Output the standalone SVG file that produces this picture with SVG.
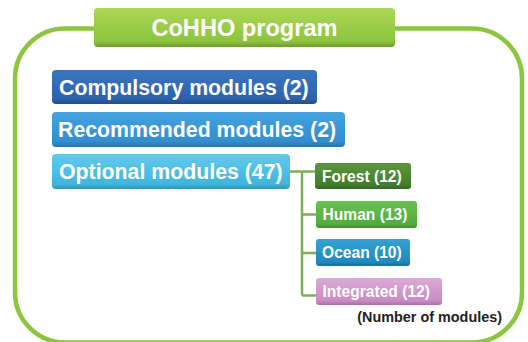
<svg xmlns="http://www.w3.org/2000/svg" width="528" height="342" viewBox="0 0 528 342">
<defs>
<linearGradient id="gTitle" x1="0" y1="0" x2="0" y2="1"><stop offset="0" stop-color="#acd656"/><stop offset="0.85" stop-color="#8dc53e"/><stop offset="1" stop-color="#6f9a30"/></linearGradient>
<linearGradient id="gComp" x1="0" y1="0" x2="0" y2="1"><stop offset="0" stop-color="#3a76bf"/><stop offset="0.85" stop-color="#2c62ab"/><stop offset="1" stop-color="#224f8c"/></linearGradient>
<linearGradient id="gRec" x1="0" y1="0" x2="0" y2="1"><stop offset="0" stop-color="#44a3e0"/><stop offset="0.85" stop-color="#318dcf"/><stop offset="1" stop-color="#2673ab"/></linearGradient>
<linearGradient id="gOpt" x1="0" y1="0" x2="0" y2="1"><stop offset="0" stop-color="#60cbec"/><stop offset="0.85" stop-color="#42b5de"/><stop offset="1" stop-color="#3295b8"/></linearGradient>
<linearGradient id="gFor" x1="0" y1="0" x2="0" y2="1"><stop offset="0" stop-color="#5a953c"/><stop offset="0.85" stop-color="#437e2e"/><stop offset="1" stop-color="#356424"/></linearGradient>
<linearGradient id="gHum" x1="0" y1="0" x2="0" y2="1"><stop offset="0" stop-color="#69c052"/><stop offset="0.85" stop-color="#52ad3e"/><stop offset="1" stop-color="#428c32"/></linearGradient>
<linearGradient id="gOce" x1="0" y1="0" x2="0" y2="1"><stop offset="0" stop-color="#35a2d3"/><stop offset="0.85" stop-color="#2189bd"/><stop offset="1" stop-color="#1a6f99"/></linearGradient>
<linearGradient id="gInt" x1="0" y1="0" x2="0" y2="1"><stop offset="0" stop-color="#dcaad7"/><stop offset="0.85" stop-color="#c88bc3"/><stop offset="1" stop-color="#a870a3"/></linearGradient>
</defs>
<style>
.frame{fill:none;stroke:#8cc63e;stroke-width:4.5}
.conn{fill:none;stroke:#7fae58;stroke-width:2.5}
.t{font-family:"Liberation Sans",Arial,sans-serif;font-weight:bold;fill:#ffffff}
.big{font-size:21.3px}
.small{font-size:15.6px}
.note{font-family:"Liberation Sans",Arial,sans-serif;font-weight:bold;font-size:14.4px;fill:#222222}
</style>
<rect width="528" height="342" fill="#ffffff"/>
<g id="frame">
<path class="frame" d="M95,28.5 H65 A50,50 0 0 0 15,78.5 V292 A50,50 0 0 0 65,342.5 H472 A50,50 0 0 0 522,292.5 V78.5 A50,50 0 0 0 472,28.5 H395"/>
</g>
<g id="title">
<rect x="94" y="8" width="301" height="39" rx="4" fill="url(#gTitle)"/>
<text class="t" x="244.5" y="36.3" font-size="23.6" text-anchor="middle">CoHHO program</text>
</g>
<g id="connectors">
<path class="conn" d="M290,171.5 H316 M302,171.5 V295.5 M302,214.5 H316 M302,253 H316 M302,295.5 H316"/>
</g>
<g id="compulsory">
<rect x="52" y="70" width="265" height="34" rx="4" fill="url(#gComp)"/>
<text class="t big" x="59" y="94.5">Compulsory modules (2)</text>
</g>
<g id="recommended">
<rect x="52" y="112" width="293" height="35" rx="4" fill="url(#gRec)"/>
<text class="t big" x="58" y="137">Recommended modules (2)</text>
</g>
<g id="optional">
<rect x="52" y="154" width="238" height="35" rx="4" fill="url(#gOpt)"/>
<text class="t big" x="59" y="179">Optional modules (47)</text>
</g>
<g id="forest">
<rect x="315" y="163" width="96" height="26" rx="3" fill="url(#gFor)"/>
<text class="t small" x="322" y="181.5">Forest (12)</text>
</g>
<g id="human">
<rect x="316" y="201" width="101" height="27" rx="3" fill="url(#gHum)"/>
<text class="t small" x="322.5" y="220">Human (13)</text>
</g>
<g id="ocean">
<rect x="316" y="239" width="94" height="27" rx="3" fill="url(#gOce)"/>
<text class="t small" x="322" y="258">Ocean (10)</text>
</g>
<g id="integrated">
<rect x="316" y="278" width="126" height="27" rx="3" fill="url(#gInt)"/>
<text class="t small" x="322.5" y="297">Integrated (12)</text>
</g>
<text class="note" x="502" y="322" text-anchor="end">(Number of modules)</text>
</svg>
